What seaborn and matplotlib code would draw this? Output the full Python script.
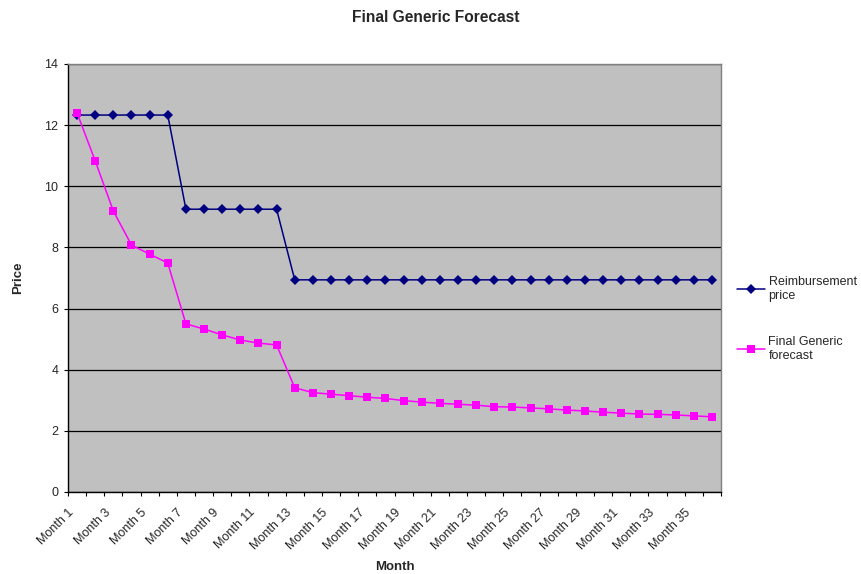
import numpy as np
import pandas as pd
import matplotlib
matplotlib.use("Agg")
import matplotlib.pyplot as plt
import seaborn as sns

months = [f"Month {i}" for i in range(1, 37)]

reimbursement_price = [12.33] * 6 + [9.25] * 6 + [6.94] * 24

generic_forecast = [
    12.40, 10.83, 9.19, 8.08, 7.78, 7.49,
    5.50, 5.33, 5.14, 4.97, 4.87, 4.81,
    3.41, 3.25, 3.20, 3.15, 3.10, 3.06,
    2.99, 2.94, 2.90, 2.87, 2.84, 2.79,
    2.78, 2.75, 2.72, 2.68, 2.65, 2.61,
    2.58, 2.55, 2.54, 2.52, 2.49, 2.46,
]

y_ticks = [0, 2, 4, 6, 8, 10, 12, 14]

series_names = ["Reimbursement\nprice", "Final Generic\nforecast"]

df = pd.DataFrame({
    "Month": months * 2,
    "Price": reimbursement_price + generic_forecast,
    "Series": [series_names[0]] * 36 + [series_names[1]] * 36,
})
df["pos"] = np.tile(np.arange(36), 2)

sns.set_style("white")
plt.rcParams["font.family"] = ["Liberation Sans", "DejaVu Sans"]

fig = plt.figure(figsize=(8.61, 5.74), dpi=100)
ax = fig.add_axes([68 / 861, 1 - 492 / 574, (721 - 68) / 861, (492 - 64) / 574])
ax.set_facecolor("#C0C0C0")

sns.lineplot(
    data=df, x="pos", y="Price", hue="Series", style="Series",
    palette={series_names[0]: "#000080", series_names[1]: "#FF00FF"},
    markers={series_names[0]: "D", series_names[1]: "s"},
    dashes=False, linewidth=1.1, markeredgewidth=0,
    ax=ax, legend=True, zorder=3,
)
# Square markers a little larger than the diamonds
for line in ax.get_lines():
    if line.get_marker() == "s":
        line.set_markersize(5.8)
    else:
        line.set_markersize(4.6)

ax.set_xlim(-0.5, 35.5)
ax.set_ylim(0, 14)
ax.set_yticks(y_ticks)
ax.yaxis.grid(True, color="black", linewidth=0.9)
ax.xaxis.grid(False)
ax.set_axisbelow(True)

# Tick marks on category boundaries; every other category is labelled
boundaries = np.arange(-0.5, 36, 1)
tick_text = [months[i] if (i < 36 and i % 2 == 0) else "" for i in range(len(boundaries))]
ax.set_xticks(boundaries)
ax.set_xticklabels(tick_text, rotation=45, ha="right", va="top",
                   rotation_mode="anchor", fontsize=9)
ax.tick_params(axis="x", direction="out", length=3, width=0.8,
               color="black", bottom=True, pad=7.5)
ax.tick_params(axis="y", direction="out", length=3, width=0.8, color="black",
               labelsize=9, left=True, pad=4)

for side in ["left", "bottom"]:
    ax.spines[side].set_color("black")
    ax.spines[side].set_linewidth(1.0)
for side in ["right", "top"]:
    ax.spines[side].set_visible(True)
    ax.spines[side].set_color("#808080")
    ax.spines[side].set_linewidth(1.0)

ax.set_xlabel("Month", fontsize=9.5, fontweight="bold")
ax.xaxis.set_label_coords(0.5, (492 - 561) / 428)
ax.set_ylabel("Price", fontsize=9.5, fontweight="bold")
ax.yaxis.set_label_coords((24 - 68) / 653, 0.5)
fig.text(0.5 * (349 + 522) / 861, 1 - 17 / 574, "Final Generic Forecast",
         fontsize=11.2, fontweight="bold", ha="center", va="center")

handles, labels = ax.get_legend_handles_labels()
ax.legend_.remove()
fig.legend(handles, labels, loc="upper left", bbox_to_anchor=(726 / 861, 1 - 265 / 574),
           frameon=False, fontsize=9, handlelength=2.2, handletextpad=0.3,
           labelspacing=2.75)

fig.savefig("out.png", dpi=100)
